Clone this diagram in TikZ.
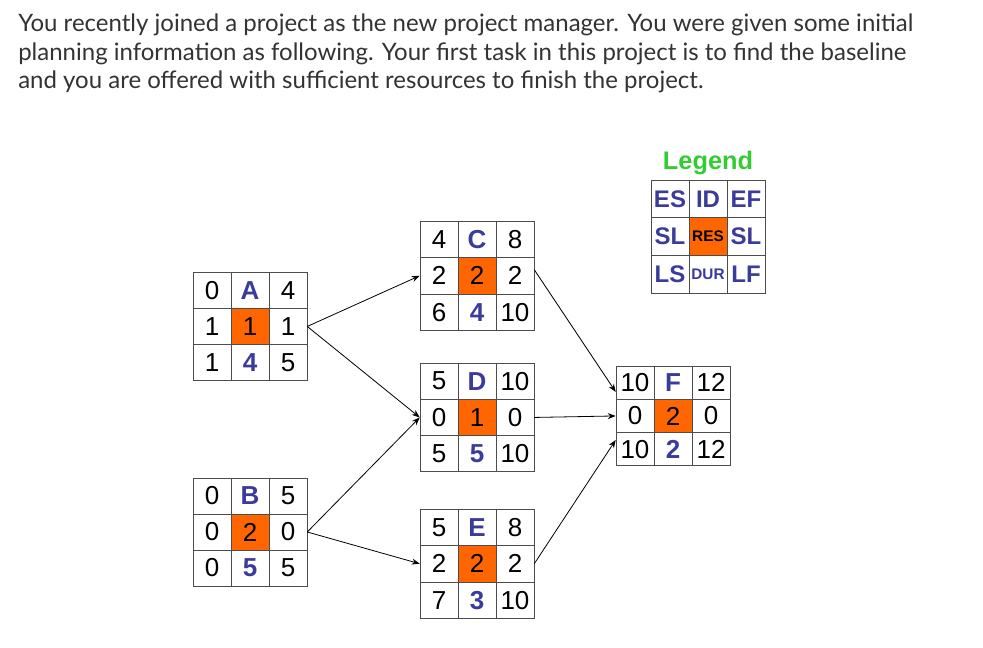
\documentclass[tikz,border=0pt]{standalone}
\usepackage{fontspec}
\setmainfont{Lato}
\newfontfamily\arial{Liberation Sans}
\usetikzlibrary{fit,arrows.meta,calc}
\definecolor{blu}{HTML}{3B3B9C}
\definecolor{org}{HTML}{FF6600}
\definecolor{grn}{HTML}{33CC33}
\definecolor{txt}{HTML}{333333}
\tikzset{
  cell/.style={draw=black!70, line width=0.7pt, minimum width=28.5pt, inner sep=0pt, font=\arial\fontsize{19.5}{19.5}\selectfont},
  resc/.style={fill=org},
  bluc/.style={text=blu, font=\arial\bfseries\fontsize{19.5}{19.5}\selectfont},
  conn/.style={line width=0.6pt, -{Stealth[length=6pt,width=4.5pt]}},
}
\newcommand\abox[5]{%
  \coordinate (#1-tl) at (#2,#3);
  \coordinate (#1-br) at ($(#2,#3)+(114,3*#4)$);
  \foreach \t [count=\i from 0] in {#5} {%
    \pgfmathtruncatemacro\cc{mod(\i,3)}%
    \pgfmathtruncatemacro\rr{int(\i/3)}%
    \ifcase\i
      \node[cell,minimum height=#4*0.75pt] at ($(#2,#3)+(19+38*\cc,#4/2+#4*\rr)$) {\t};
    \or\node[cell,bluc,minimum height=#4*0.75pt] at ($(#2,#3)+(19+38*\cc,#4/2+#4*\rr)$) {\t};
    \or\node[cell,minimum height=#4*0.75pt] at ($(#2,#3)+(19+38*\cc,#4/2+#4*\rr)$) {\t};
    \or\node[cell,minimum height=#4*0.75pt] at ($(#2,#3)+(19+38*\cc,#4/2+#4*\rr)$) {\t};
    \or\node[cell,resc,minimum height=#4*0.75pt] at ($(#2,#3)+(19+38*\cc,#4/2+#4*\rr)$) {\t};
    \or\node[cell,minimum height=#4*0.75pt] at ($(#2,#3)+(19+38*\cc,#4/2+#4*\rr)$) {\t};
    \or\node[cell,minimum height=#4*0.75pt] at ($(#2,#3)+(19+38*\cc,#4/2+#4*\rr)$) {\t};
    \or\node[cell,bluc,minimum height=#4*0.75pt] at ($(#2,#3)+(19+38*\cc,#4/2+#4*\rr)$) {\t};
    \else\node[cell,minimum height=#4*0.75pt] at ($(#2,#3)+(19+38*\cc,#4/2+#4*\rr)$) {\t};
    \fi}%
  \node[fit=(#1-tl)(#1-br), inner sep=0pt] (#1) {};
}
\newcommand\legtxt[1]{\textcolor{blu}{\bfseries\fontsize{18}{18}\selectfont #1}}
\begin{document}
\begin{tikzpicture}[x=0.75pt,y=-0.75pt]
\useasboundingbox (0,0) rectangle (983,648);
\fill[white] (0,0) rectangle (983,648);
\node[anchor=north west, align=left, text=txt, inner sep=0pt, font=\fontsize{18}{21.3}\selectfont] (para) at (18,14)
 {You recently joined a project as the new project manager. You were given some initial\\
  planning information as following. Your first task in this project is to find the baseline\\
  and you are offered with sufficient resources to finish the project.};
\abox{A}{193}{272}{36.3}{0,A,4,1,1,1,1,4,5}
\abox{B}{193}{478}{36}{0,B,5,0,2,0,0,5,5}
\abox{C}{420}{221}{36.5}{4,C,8,2,2,2,6,4,10}
\abox{D}{420}{363}{36.3}{5,D,10,0,1,0,5,5,10}
\abox{E}{420}{509}{36.5}{5,E,8,2,2,2,7,3,10}
\abox{F}{616}{366}{33.3}{10,F,12,0,2,0,10,2,12}
\abox{L}{651}{180}{37.7}{\legtxt{ES},\legtxt{ID},\legtxt{EF},\legtxt{SL},{\fontsize{11.5}{11.5}\selectfont\bfseries RES},\legtxt{SL},\legtxt{LS},{\fontsize{11.5}{11.5}\selectfont DUR},\legtxt{LF}}
\node[text=grn, font=\arial\bfseries\fontsize{19}{19}\selectfont] (leg) at (708,163) {Legend};
\draw[conn] (A.east) -- (C.west);
\draw[conn] (A.east) -- (D.west);
\draw[conn] (B.east) -- (D.west);
\draw[conn] (B.east) -- (E.west);
\draw[conn] ($(C.east)+(0,-6)$) -- ($(F.west)+(0,-24)$);
\draw[conn] (D.east) -- (F.west);
\draw[conn] (E.east) -- ($(F.west)+(0,24)$);
\end{tikzpicture}
\end{document}
